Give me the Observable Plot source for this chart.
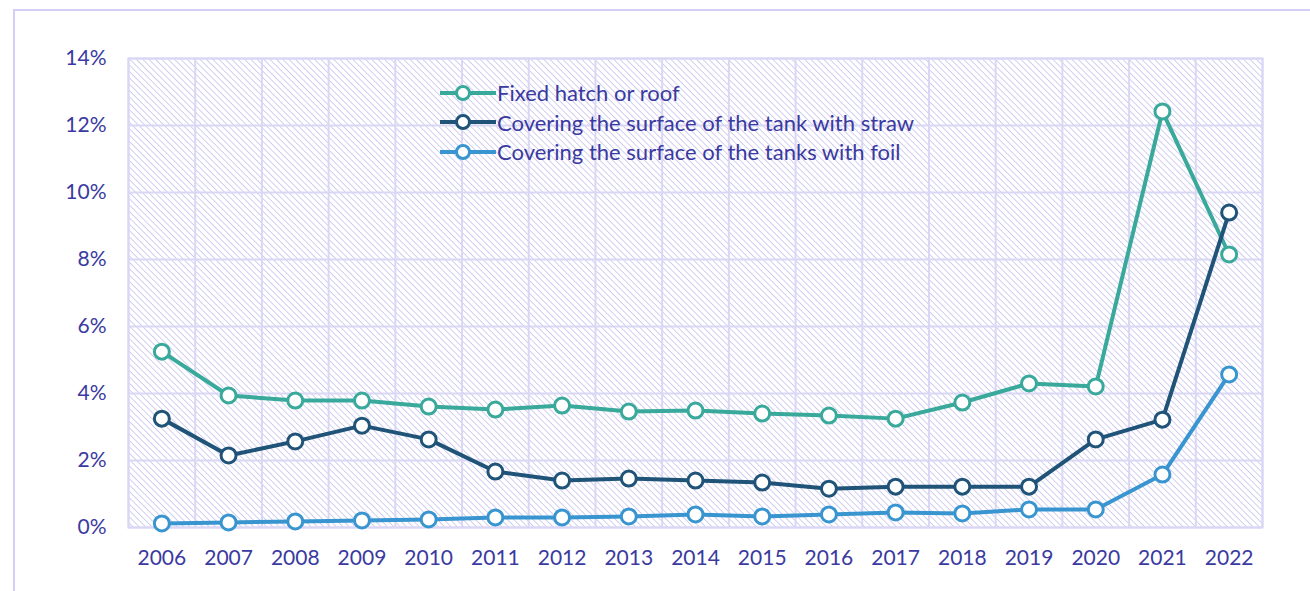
<!DOCTYPE html>
<html>
<head>
<meta charset="utf-8">
<script src="https://cdn.jsdelivr.net/npm/d3@7"></script>
<script src="https://cdn.jsdelivr.net/npm/@observablehq/plot@0.6"></script>
<style>
  html, body { margin: 0; padding: 0; background: #fff; overflow: hidden; }
  #wrap { position: relative; width: 1310px; height: 591px; font-family: Lato, "Open Sans", sans-serif; }
  #outer { position: absolute; left: 13px; top: 9px; width: 1400px; height: 700px; border-left: 2px solid #d3d0f3; border-top: 2px solid #d3d0f3; }
  #chart { position: absolute; left: 0; top: 0; }
  #legend { position: absolute; left: 440px; top: 78px; font-size: 22px; color: #3a3aa0; line-height: 29.5px; }
  #legend .row { display: flex; align-items: center; white-space: nowrap; }
  #legend svg { margin-right: 1px; }
</style>
</head>
<body>
<div id="wrap">
  <div id="outer"></div>
  <div id="chart"></div>
  <div id="legend"></div>
</div>
<script>
const years = [2006,2007,2008,2009,2010,2011,2012,2013,2014,2015,2016,2017,2018,2019,2020,2021,2022];
const seriesNames = ["Fixed hatch or roof", "Covering the surface of the tank with straw", "Covering the surface of the tanks with foil"];
const seriesColors = ["#38a99b", "#1f5378", "#3995cf"];
const fixedHatch = [5.25,3.94,3.79,3.79,3.61,3.52,3.64,3.46,3.49,3.40,3.34,3.25,3.73,4.30,4.21,12.42,8.15];
const straw = [3.25,2.15,2.57,3.04,2.63,1.67,1.40,1.46,1.40,1.34,1.16,1.22,1.22,1.22,2.63,3.22,9.40];
const foil = [0.12,0.15,0.18,0.21,0.24,0.30,0.30,0.33,0.39,0.33,0.39,0.45,0.42,0.54,0.54,1.58,4.57];
const yTicks = [0,2,4,6,8,10,12,14];

const allSeries = [fixedHatch, straw, foil];
const data = [];
allSeries.forEach((vals, i) => vals.forEach((v, j) => data.push({series: seriesNames[i], year: years[j], value: v})));
const bounds = d3.range(years.length + 1).map(i => years[0] - 0.5 + i);

const colorScale = {domain: seriesNames, range: seriesColors};
const textColor = "#3a3aa0";
const gridColor = "#dad7f5";

const plot = Plot.plot({
  width: 1310,
  height: 591,
  marginLeft: 128,
  marginRight: 48,
  marginTop: 58,
  marginBottom: 64,
  style: {fontFamily: "Lato, 'Open Sans', sans-serif", fontSize: "21px", color: textColor, background: "transparent"},
  x: {type: "linear", domain: [years[0] - 0.5, years[years.length - 1] + 0.5], ticks: years, tickFormat: d => String(d), tickSize: 0, tickPadding: 23, label: null},
  y: {domain: [0, 14], ticks: yTicks, tickFormat: d => d + "%", tickSize: 0, tickPadding: 22, label: null},
  color: colorScale,
  marks: [
    Plot.frame({fill: "url(#hatch)", stroke: gridColor, strokeWidth: 2}),
    Plot.ruleX(bounds, {stroke: gridColor, strokeWidth: 2}),
    Plot.ruleY(yTicks, {stroke: gridColor, strokeWidth: 2}),
    Plot.line(data, {x: "year", y: "value", z: "series", stroke: "series", strokeWidth: 4}),
    Plot.dot(data, {x: "year", y: "value", stroke: "series", fill: "white", r: 7.5, strokeWidth: 3})
  ]
});

// hatch pattern
const svg = d3.select(plot);
const defs = svg.insert("defs", ":first-child");
const pat = defs.append("pattern")
  .attr("id", "hatch")
  .attr("patternUnits", "userSpaceOnUse")
  .attr("width", 4.5)
  .attr("height", 4.5)
  .attr("patternTransform", "rotate(-45)");
pat.append("rect").attr("width", 4.5).attr("height", 4.5).attr("fill", "#ffffff");
pat.append("line").attr("x1", 0).attr("y1", 0).attr("x2", 0).attr("y2", 4.5)
  .attr("stroke", "#cdc9f0").attr("stroke-width", 1.8);

document.getElementById("chart").appendChild(plot);

// legend
const legend = document.getElementById("legend");
seriesNames.forEach((name, i) => {
  const row = document.createElement("div");
  row.className = "row";
  row.innerHTML = `<svg width="56" height="20"><line x1="0" y1="10" x2="56" y2="10" stroke="${seriesColors[i]}" stroke-width="4"/><circle cx="23" cy="10" r="6.5" fill="white" stroke="${seriesColors[i]}" stroke-width="3"/></svg><span>${name}</span>`;
  legend.appendChild(row);
});
</script>
</body>
</html>
